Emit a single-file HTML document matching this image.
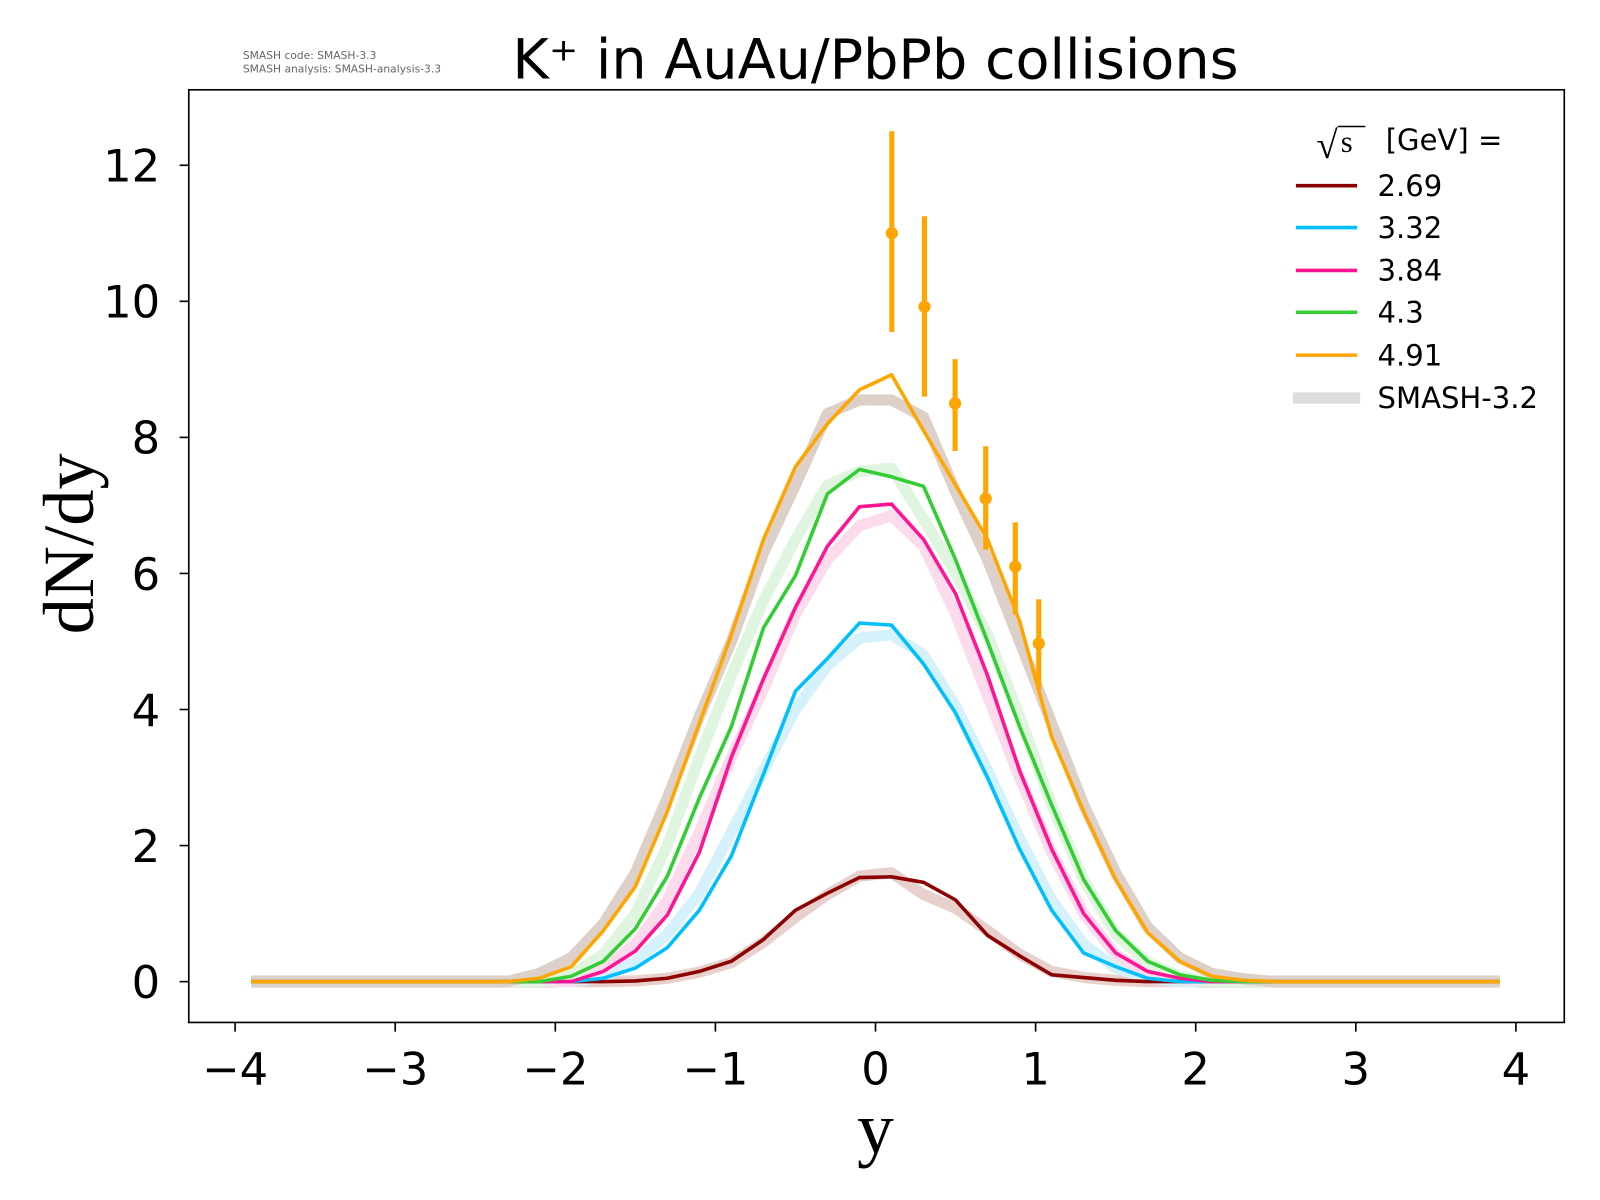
<!DOCTYPE html>
<html><head><meta charset="utf-8"><style>
html,body{margin:0;padding:0;background:#fff;}
svg{display:block;}
text{font-family:"DejaVu Sans","Liberation Sans",sans-serif;}
</style></head><body>
<svg id="s" width="1600" height="1200" xmlns="http://www.w3.org/2000/svg">
<rect width="1600" height="1200" fill="#fff"/>
<g transform="scale(1.0204)">
<g id="plot"></g>
<rect x="185" y="88" width="1348" height="914" fill="none" stroke="#000" stroke-width="1.6"/>
<g id="ticks" font-size="44" fill="#000"></g>
<text x="858" y="77" font-size="54.5" text-anchor="middle">K⁺ in AuAu/PbPb collisions</text>
<text x="238" y="58" font-size="10.5" fill="#666">SMASH code:      SMASH-3.3</text>
<text x="238" y="71" font-size="10.5" fill="#666">SMASH analysis: SMASH-analysis-3.3</text>
<text x="858" y="1130" font-size="72" text-anchor="middle" style="font-family:'Liberation Serif','DejaVu Serif',serif">y</text>
<text transform="translate(91,533) rotate(-90)" font-size="71" text-anchor="middle" style="font-family:'Liberation Serif','DejaVu Serif',serif">dN/dy</text>
<g font-size="28.5">
<text x="1290" y="155" font-size="38" style="font-family:'Liberation Serif',serif">√</text>
<line x1="1311" y1="124" x2="1338" y2="124" stroke="#000" stroke-width="1.5"/>
<text x="1314" y="149" font-size="30" style="font-family:'Liberation Serif',serif">s</text>
<text x="1358" y="147">[GeV] =</text>
<line x1="1270" y1="182" x2="1330" y2="182" stroke="#8b0000" stroke-width="3.5"/><text x="1350" y="192">2.69</text>
<line x1="1270" y1="223" x2="1330" y2="223" stroke="#00bfff" stroke-width="3.5"/><text x="1350" y="233">3.32</text>
<line x1="1270" y1="265" x2="1330" y2="265" stroke="#ff1493" stroke-width="3.5"/><text x="1350" y="275">3.84</text>
<line x1="1270" y1="306" x2="1330" y2="306" stroke="#32cd32" stroke-width="3.5"/><text x="1350" y="316">4.3</text>
<line x1="1270" y1="348" x2="1330" y2="348" stroke="#ffa500" stroke-width="3.5"/><text x="1350" y="358">4.91</text>
<line x1="1267" y1="390" x2="1333" y2="390" stroke="#dcdcdc" stroke-width="11"/><text x="1350" y="400">SMASH-3.2</text>
</g>
</g>
</svg>
<script>
const X=v=>858+156.9*v, Y=v=>962-66.67*v;
const xs=[];for(let i=0;i<40;i++)xs.push(-3.9+0.2*i);
function full(m){return xs.map(x=>{const k=x.toFixed(1);return m[k]!==undefined?m[k]:0;});}
function mk(arr){const o={};for(let i=0;i<arr.length;i+=2)o[arr[i].toFixed(1)]=arr[i+1];return o;}
const S=[
["#8b0000","#e8d0cc",mk([-1.5,.01,-1.3,.05,-1.1,.15,-.9,.3,-.7,.62,-.5,1.05,-.3,1.3,-.1,1.53,.1,1.54,.3,1.46,.5,1.2,.7,.68,.9,.38,1.1,.1,1.3,.06,1.5,.02]),mk([-1.5,.01,-1.3,.05,-1.1,.14,-.9,.28,-.7,.58,-.5,.95,-.3,1.28,-.1,1.55,.1,1.6,.3,1.28,.5,1.08,.7,.75,.9,.4,1.1,.15,1.3,.06,1.5,.02])],
["#00bfff","#d5f1fc",mk([-1.7,.05,-1.5,.2,-1.3,.5,-1.1,1.05,-.9,1.85,-.7,3.05,-.5,4.27,-.3,4.75,-.1,5.27,.1,5.24,.3,4.67,.5,3.95,.7,3.0,.9,1.95,1.1,1.05,1.3,.42,1.5,.22,1.7,.05]),mk([-1.7,.07,-1.5,.3,-1.3,.7,-1.1,1.3,-.9,2.2,-.7,3.1,-.5,4.0,-.3,4.65,-.1,5.05,.1,5.1,.3,4.8,.5,4.05,.7,3.1,.9,2.1,1.1,1.2,1.3,.55,1.5,.2,1.7,.06])],
["#ff1493","#fcdcec",mk([-1.7,.15,-1.5,.45,-1.3,.98,-1.1,1.9,-.9,3.3,-.7,4.45,-.5,5.5,-.3,6.4,-.1,6.98,.1,7.02,.3,6.5,.5,5.7,.7,4.5,.9,3.1,1.1,1.95,1.3,1.0,1.5,.42,1.7,.15,1.9,.05]),mk([-1.7,.2,-1.5,.55,-1.3,1.2,-1.1,2.2,-.9,3.3,-.7,4.3,-.5,5.4,-.3,6.2,-.1,6.7,.1,6.85,.3,6.4,.5,5.4,.7,4.2,.9,3.0,1.1,1.9,1.3,1.0,1.5,.4,1.7,.12,1.9,.04])],
["#32cd32","#dff5df",mk([-1.9,.08,-1.7,.3,-1.5,.78,-1.3,1.55,-1.1,2.7,-.9,3.75,-.7,5.2,-.5,5.97,-.3,7.17,-.1,7.53,.1,7.42,.3,7.28,.5,6.2,.7,5.0,.9,3.75,1.1,2.6,1.3,1.5,1.5,.75,1.7,.3,1.9,.1,2.1,.02]),mk([-1.9,.1,-1.7,.4,-1.5,1.0,-1.3,2.0,-1.1,3.3,-.9,4.5,-.7,5.6,-.5,6.5,-.3,7.3,-.1,7.5,.1,7.55,.3,6.8,.5,6.0,.7,5.1,.9,3.9,1.1,2.6,1.3,1.5,1.5,.7,1.7,.28,1.9,.08])],
["#ffa500","#dcd0c9",mk([-2.1,.05,-1.9,.22,-1.7,.75,-1.5,1.4,-1.3,2.5,-1.1,3.8,-.9,5.1,-.7,6.5,-.5,7.57,-.3,8.2,-.1,8.7,.1,8.92,.3,8.1,.5,7.3,.7,6.5,.9,5.3,1.1,3.6,1.3,2.5,1.5,1.5,1.7,.72,1.9,.3,2.1,.08,2.3,.02]),mk([-2.1,.12,-1.9,.35,-1.7,.85,-1.5,1.6,-1.3,2.7,-1.1,3.9,-.9,5.0,-.7,6.3,-.5,7.3,-.3,8.35,-.1,8.55,.1,8.55,.3,8.3,.5,7.2,.7,6.2,.9,5.0,1.1,3.8,1.3,2.6,1.5,1.6,1.7,.8,1.9,.35,2.1,.12,2.3,.04])]
];
const g=document.getElementById('plot');let h='';
const pts=a=>xs.map((x,i)=>X(x).toFixed(1)+','+Y(a[i]).toFixed(1)).join(' ');
h+=`<line x1="${X(-3.9)}" y1="${Y(0)}" x2="${X(-2.0)}" y2="${Y(0)}" stroke="#cccccc" stroke-width="12"/>`;
h+=`<line x1="${X(2.0)}" y1="${Y(0)}" x2="${X(3.9)}" y2="${Y(0)}" stroke="#cccccc" stroke-width="12"/>`;
for(const s of S){h+=`<polyline points="${pts(full(s[3]))}" fill="none" stroke="${s[1]}" stroke-width="11" stroke-linejoin="round"/>`;}
for(const s of S){h+=`<polyline points="${pts(full(s[2]))}" fill="none" stroke="${s[0]}" stroke-width="3.5" stroke-linejoin="miter"/>`;}
const E=[[874,11.0,9.55,12.5],[906,9.92,8.6,11.25],[936,8.5,7.8,9.15],[966,7.1,6.35,7.87],[995,6.1,5.4,6.75],[1018,4.97,4.3,5.62]];
for(const e of E){h+=`<line x1="${e[0]}" x2="${e[0]}" y1="${Y(e[2])}" y2="${Y(e[3])}" stroke="#ffa500" stroke-width="5"/><circle cx="${e[0]}" cy="${Y(e[1])}" r="6" fill="#ffa500"/>`;}
g.innerHTML=h;
let t='';
for(let v=-4;v<=4;v++){const x=X(v);t+=`<line x1="${x}" x2="${x}" y1="1002" y2="1011" stroke="#000" stroke-width="1.6"/><text x="${x}" y="1063" text-anchor="middle">${v<0?'−'+(-v):v}</text>`;}
for(let v=0;v<=12;v+=2){const y=Y(v);t+=`<line x1="176" x2="185" y1="${y}" y2="${y}" stroke="#000" stroke-width="1.6"/><text x="157" y="${y+16}" text-anchor="end">${v}</text>`;}
document.getElementById('ticks').innerHTML=t;
</script>
</body></html>
